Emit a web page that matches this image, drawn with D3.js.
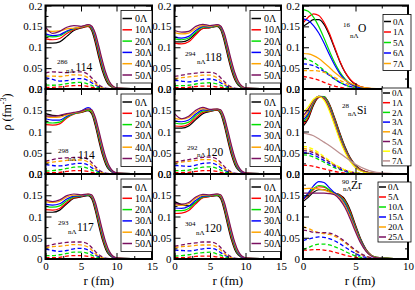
<!DOCTYPE html>
<html>
<head>
<meta charset="utf-8">
<script src="https://cdn.jsdelivr.net/npm/d3@7"></script>
<style>
  body { margin: 0; background: #fff; }
  svg { display: block; font-family: "Liberation Serif", "DejaVu Serif", serif; }
</style>
</head>
<body>
<div id="chart"></div>
<script>
// ---------- data ----------
// radial grids (fm)
const rHeavy = [0, 1, 2, 3, 4, 5, 6, 6.5, 7, 7.5, 8, 8.5, 9, 10, 15];
const rO  = [0, 0.5, 1, 1.5, 2, 2.5, 3, 3.5, 4, 4.5, 5, 6, 7, 10];
const rSi = [0, 0.5, 1, 1.5, 2, 2.5, 3, 3.5, 4, 4.5, 5, 6, 7, 10];
const rZr = [0, 0.5, 1, 1.5, 2, 2.5, 3, 3.5, 4, 4.5, 5, 5.5, 6, 7, 10];

const legendHeavy = ["0\u039b", "10\u039b", "20\u039b", "30\u039b", "40\u039b", "50\u039b"];
const legendO  = ["0\u039b", "1\u039b", "5\u039b", "6\u039b", "7\u039b"];
const legendSi = ["0\u039b", "1\u039b", "2\u039b", "3\u039b", "4\u039b", "5\u039b", "6\u039b", "7\u039b"];
const legendZr = ["0\u039b", "5\u039b", "10\u039b", "15\u039b", "20\u039b", "25\u039b"];

const yTicks = [0, 0.05, 0.1, 0.15, 0.2];
const yTickLabelsUpper = ["0.0", "0.05", "0.1", "0.15", "0.2"];
const yTickLabelsLower = ["0", "0.05", "0.1", "0.15", "0.2"];
const yMinor = [0.025, 0.075, 0.125, 0.175];
const xTicksHeavy = [0, 5, 10, 15];
const xTicksLight = [0, 5, 10];
const xMinorHeavy = [2.5, 7.5, 12.5];
const xMinorLight = [2.5, 7.5];

// 286 nΛ 114
const solid286 = [
  [0.110,0.110,0.113,0.126,0.140,0.146,0.150,0.140,0.112,0.076,0.044,0.021,0.008,0.001,0],
  [0.120,0.118,0.121,0.133,0.142,0.147,0.150,0.143,0.118,0.083,0.050,0.025,0.010,0.001,0],
  [0.128,0.125,0.127,0.137,0.144,0.148,0.152,0.146,0.123,0.089,0.055,0.028,0.012,0.002,0],
  [0.132,0.128,0.130,0.139,0.145,0.149,0.153,0.148,0.127,0.094,0.060,0.032,0.014,0.002,0],
  [0.140,0.138,0.139,0.144,0.146,0.149,0.153,0.150,0.131,0.099,0.065,0.036,0.016,0.003,0],
  [0.148,0.133,0.138,0.148,0.152,0.150,0.154,0.151,0.134,0.103,0.069,0.039,0.018,0.003,0]
];
const dashed286 = [
  [0.004,0.004,0.005,0.007,0.008,0.008,0.006,0.004,0.003,0.001,0.001,0,0,0,0],
  [0.010,0.009,0.010,0.013,0.015,0.016,0.012,0.009,0.005,0.003,0.001,0,0,0,0],
  [0.027,0.023,0.019,0.020,0.024,0.025,0.020,0.015,0.010,0.005,0.002,0.001,0,0,0],
  [0.031,0.031,0.030,0.032,0.034,0.033,0.027,0.020,0.013,0.007,0.003,0.001,0,0,0],
  [0.038,0.041,0.040,0.039,0.041,0.041,0.035,0.027,0.018,0.010,0.005,0.002,0.001,0,0]
];

// 294 nΛ 118
const solid294 = [
  [0.113,0.113,0.118,0.133,0.145,0.147,0.150,0.142,0.115,0.079,0.046,0.022,0.009,0.001,0],
  [0.110,0.108,0.113,0.130,0.145,0.147,0.151,0.145,0.120,0.085,0.051,0.026,0.011,0.001,0],
  [0.120,0.118,0.122,0.136,0.148,0.148,0.152,0.147,0.124,0.090,0.056,0.029,0.012,0.002,0],
  [0.125,0.122,0.126,0.140,0.150,0.149,0.153,0.149,0.128,0.095,0.061,0.033,0.014,0.002,0],
  [0.135,0.132,0.134,0.145,0.152,0.150,0.153,0.150,0.131,0.099,0.065,0.036,0.016,0.003,0],
  [0.140,0.136,0.138,0.150,0.155,0.152,0.154,0.151,0.134,0.103,0.069,0.039,0.018,0.003,0]
];
const dashed294 = [
  [0.003,0.003,0.004,0.006,0.007,0.007,0.005,0.004,0.002,0.001,0,0,0,0,0],
  [0.008,0.008,0.009,0.012,0.014,0.015,0.012,0.009,0.005,0.003,0.001,0,0,0,0],
  [0.021,0.019,0.017,0.019,0.023,0.024,0.020,0.015,0.010,0.005,0.002,0.001,0,0,0],
  [0.025,0.027,0.029,0.031,0.033,0.033,0.027,0.020,0.013,0.007,0.003,0.001,0,0,0],
  [0.030,0.033,0.036,0.038,0.040,0.040,0.035,0.027,0.018,0.010,0.005,0.002,0.001,0,0]
];

// 298 nΛ 114
const solid298 = [
  [0.142,0.138,0.137,0.140,0.143,0.145,0.149,0.142,0.115,0.079,0.046,0.022,0.009,0.001,0],
  [0.116,0.115,0.118,0.132,0.141,0.145,0.150,0.145,0.120,0.085,0.051,0.026,0.011,0.001,0],
  [0.121,0.120,0.122,0.134,0.142,0.146,0.151,0.147,0.124,0.090,0.056,0.029,0.012,0.002,0],
  [0.130,0.127,0.127,0.136,0.143,0.148,0.156,0.151,0.128,0.095,0.061,0.033,0.014,0.002,0],
  [0.135,0.133,0.134,0.139,0.144,0.147,0.153,0.150,0.131,0.099,0.065,0.036,0.016,0.003,0],
  [0.137,0.136,0.138,0.142,0.145,0.148,0.153,0.151,0.134,0.103,0.069,0.039,0.018,0.003,0]
];
const dashed298 = [
  [0.003,0.003,0.004,0.006,0.008,0.008,0.006,0.004,0.002,0.001,0,0,0,0,0],
  [0.007,0.008,0.010,0.013,0.016,0.017,0.013,0.009,0.005,0.003,0.001,0,0,0,0],
  [0.022,0.020,0.019,0.021,0.024,0.025,0.021,0.015,0.010,0.005,0.002,0.001,0,0,0],
  [0.026,0.028,0.030,0.032,0.033,0.033,0.028,0.021,0.013,0.007,0.003,0.001,0,0,0],
  [0.030,0.034,0.037,0.038,0.039,0.039,0.035,0.027,0.018,0.010,0.005,0.002,0.001,0,0]
];

// 292 nΛ 120
const solid292 = [
  [0.108,0.108,0.113,0.128,0.142,0.147,0.150,0.142,0.115,0.079,0.046,0.022,0.009,0.001,0],
  [0.113,0.112,0.117,0.132,0.145,0.148,0.151,0.145,0.120,0.085,0.051,0.026,0.011,0.001,0],
  [0.120,0.118,0.122,0.137,0.148,0.149,0.152,0.147,0.124,0.090,0.056,0.029,0.012,0.002,0],
  [0.125,0.123,0.127,0.141,0.151,0.150,0.153,0.149,0.128,0.095,0.061,0.033,0.014,0.002,0],
  [0.131,0.129,0.133,0.146,0.154,0.151,0.153,0.150,0.131,0.099,0.065,0.036,0.016,0.003,0],
  [0.142,0.130,0.136,0.150,0.157,0.152,0.153,0.151,0.134,0.103,0.069,0.039,0.018,0.003,0]
];
const dashed292 = [
  [0.003,0.003,0.004,0.006,0.008,0.008,0.006,0.004,0.002,0.001,0,0,0,0,0],
  [0.008,0.008,0.009,0.013,0.016,0.017,0.013,0.009,0.005,0.003,0.001,0,0,0,0],
  [0.020,0.019,0.018,0.021,0.025,0.026,0.021,0.015,0.010,0.005,0.002,0.001,0,0,0],
  [0.026,0.028,0.030,0.032,0.034,0.034,0.028,0.021,0.013,0.007,0.003,0.001,0,0,0],
  [0.028,0.031,0.034,0.037,0.039,0.040,0.035,0.027,0.018,0.010,0.005,0.002,0.001,0,0]
];

// 293 nΛ 117
const solid293 = [
  [0.110,0.110,0.115,0.130,0.143,0.146,0.149,0.142,0.115,0.079,0.046,0.022,0.009,0.001,0],
  [0.116,0.115,0.119,0.133,0.144,0.147,0.150,0.145,0.120,0.085,0.051,0.026,0.011,0.001,0],
  [0.124,0.122,0.125,0.137,0.146,0.148,0.151,0.147,0.124,0.090,0.056,0.029,0.012,0.002,0],
  [0.129,0.127,0.130,0.141,0.148,0.149,0.152,0.149,0.128,0.095,0.061,0.033,0.014,0.002,0],
  [0.135,0.133,0.136,0.146,0.150,0.150,0.153,0.150,0.131,0.099,0.065,0.036,0.016,0.003,0],
  [0.139,0.135,0.139,0.149,0.153,0.151,0.153,0.151,0.134,0.103,0.069,0.039,0.018,0.003,0]
];
const dashed293 = [
  [0.003,0.003,0.004,0.007,0.008,0.008,0.006,0.004,0.002,0.001,0,0,0,0,0],
  [0.008,0.008,0.010,0.013,0.016,0.016,0.013,0.009,0.005,0.003,0.001,0,0,0,0],
  [0.023,0.020,0.018,0.020,0.024,0.025,0.021,0.015,0.010,0.005,0.002,0.001,0,0,0],
  [0.027,0.029,0.030,0.032,0.034,0.033,0.028,0.021,0.013,0.007,0.003,0.001,0,0,0],
  [0.030,0.034,0.037,0.039,0.040,0.040,0.035,0.027,0.018,0.010,0.005,0.002,0.001,0,0]
];

// 304 nΛ 120
const solid304 = [
  [0.135,0.128,0.125,0.133,0.145,0.147,0.149,0.142,0.115,0.079,0.046,0.022,0.009,0.001,0],
  [0.107,0.108,0.114,0.130,0.144,0.147,0.150,0.145,0.120,0.085,0.051,0.026,0.011,0.001,0],
  [0.114,0.114,0.119,0.134,0.146,0.148,0.151,0.147,0.124,0.090,0.056,0.029,0.012,0.002,0],
  [0.120,0.119,0.124,0.138,0.148,0.149,0.153,0.149,0.128,0.095,0.061,0.033,0.014,0.002,0],
  [0.128,0.126,0.130,0.143,0.150,0.150,0.153,0.150,0.131,0.099,0.065,0.036,0.016,0.003,0],
  [0.131,0.129,0.133,0.146,0.152,0.151,0.153,0.151,0.134,0.103,0.069,0.039,0.018,0.003,0]
];
const dashed304 = [
  [0.003,0.003,0.004,0.006,0.007,0.007,0.005,0.004,0.002,0.001,0,0,0,0,0],
  [0.007,0.008,0.010,0.013,0.015,0.016,0.012,0.009,0.005,0.003,0.001,0,0,0,0],
  [0.021,0.020,0.019,0.021,0.024,0.025,0.021,0.015,0.010,0.005,0.002,0.001,0,0,0],
  [0.027,0.029,0.030,0.032,0.033,0.033,0.028,0.021,0.013,0.007,0.003,0.001,0,0,0],
  [0.030,0.033,0.036,0.038,0.040,0.040,0.035,0.027,0.018,0.010,0.005,0.002,0.001,0,0]
];

// 16 nΛ O
const solidO = [
  [0.150,0.158,0.166,0.166,0.155,0.130,0.098,0.066,0.040,0.022,0.011,0.002,0,0],
  [0.158,0.172,0.180,0.176,0.160,0.134,0.101,0.068,0.041,0.023,0.012,0.002,0,0],
  [0.190,0.186,0.172,0.150,0.122,0.092,0.064,0.041,0.024,0.013,0.007,0.001,0,0],
  [0.168,0.164,0.152,0.134,0.110,0.083,0.058,0.037,0.022,0.012,0.006,0.001,0,0],
  [0.085,0.084,0.080,0.073,0.063,0.052,0.040,0.030,0.021,0.014,0.009,0.003,0.001,0]
];
const dashedO = [
  [0.030,0.028,0.025,0.021,0.016,0.011,0.007,0.004,0.002,0.001,0,0,0,0],
  [0.072,0.070,0.064,0.055,0.045,0.034,0.024,0.016,0.010,0.005,0.003,0,0,0],
  [0.060,0.059,0.056,0.050,0.042,0.033,0.024,0.016,0.010,0.006,0.003,0,0,0],
  [0.044,0.044,0.044,0.043,0.040,0.035,0.028,0.021,0.015,0.009,0.005,0.001,0,0]
];

// 28 nΛ Si
const solidSi = [
  [0.112,0.130,0.162,0.180,0.182,0.165,0.133,0.097,0.064,0.038,0.021,0.005,0.001,0],
  [0.116,0.133,0.165,0.181,0.182,0.164,0.131,0.095,0.062,0.037,0.020,0.005,0.001,0],
  [0.121,0.138,0.168,0.183,0.182,0.162,0.128,0.092,0.060,0.035,0.019,0.004,0.001,0],
  [0.126,0.142,0.170,0.183,0.180,0.159,0.125,0.089,0.058,0.034,0.018,0.004,0.001,0],
  [0.131,0.147,0.172,0.183,0.179,0.156,0.122,0.086,0.056,0.033,0.017,0.004,0.001,0],
  [0.137,0.152,0.174,0.183,0.177,0.153,0.119,0.084,0.054,0.031,0.016,0.004,0.001,0],
  [0.145,0.158,0.176,0.182,0.174,0.149,0.115,0.080,0.051,0.029,0.015,0.003,0.001,0],
  [0.096,0.094,0.090,0.083,0.075,0.067,0.058,0.049,0.040,0.031,0.023,0.011,0.004,0]
];
const dashedSi = [
  [0.021,0.020,0.018,0.015,0.012,0.009,0.006,0.004,0.002,0.001,0,0,0,0],
  [0.045,0.044,0.040,0.034,0.028,0.021,0.015,0.010,0.006,0.003,0.002,0,0,0],
  [0.050,0.049,0.045,0.039,0.032,0.025,0.018,0.012,0.007,0.004,0.002,0,0,0],
  [0.060,0.058,0.053,0.046,0.038,0.029,0.021,0.014,0.009,0.005,0.003,0,0,0],
  [0.055,0.054,0.050,0.044,0.037,0.029,0.021,0.015,0.009,0.005,0.003,0,0,0],
  [0.065,0.063,0.058,0.050,0.041,0.032,0.023,0.016,0.010,0.006,0.003,0,0,0]
];

// 90 nΛ Zr
const solidZr = [
  [0.135,0.145,0.157,0.163,0.163,0.159,0.155,0.151,0.140,0.115,0.080,0.047,0.023,0.004,0],
  [0.140,0.150,0.163,0.170,0.169,0.162,0.155,0.150,0.137,0.111,0.077,0.045,0.022,0.004,0],
  [0.142,0.153,0.166,0.173,0.171,0.163,0.155,0.148,0.134,0.107,0.074,0.043,0.021,0.004,0],
  [0.140,0.155,0.172,0.182,0.180,0.168,0.156,0.146,0.130,0.103,0.071,0.041,0.020,0.003,0],
  [0.165,0.166,0.166,0.165,0.162,0.158,0.153,0.144,0.126,0.099,0.068,0.039,0.019,0.003,0],
  [0.155,0.155,0.155,0.155,0.155,0.154,0.151,0.140,0.121,0.094,0.064,0.037,0.018,0.003,0]
];
const dashedZr = [
  [0.021,0.021,0.022,0.022,0.021,0.019,0.016,0.013,0.009,0.006,0.004,0.002,0.001,0,0],
  [0.022,0.027,0.032,0.035,0.035,0.033,0.029,0.024,0.018,0.012,0.007,0.004,0.002,0,0],
  [0.043,0.047,0.050,0.052,0.051,0.048,0.043,0.036,0.028,0.020,0.013,0.007,0.004,0.001,0],
  [0.076,0.072,0.066,0.062,0.060,0.058,0.054,0.047,0.038,0.028,0.019,0.011,0.006,0.001,0],
  [0.068,0.066,0.063,0.062,0.062,0.061,0.057,0.050,0.041,0.031,0.021,0.013,0.007,0.001,0]
];

// ---------- styling / layout ----------
const seriesColors = ["#000000", "#ff0000", "#00e000", "#0000ff", "#ffa500", "#7a1060", "#ffff00", "#bc8f8f"];

const cols = [
  { x0: 45.5, x1: 152, xmax: 15, ticks: xTicksHeavy, minor: xMinorHeavy },
  { x0: 174.5, x1: 281, xmax: 15, ticks: xTicksHeavy, minor: xMinorHeavy },
  { x0: 303, x1: 408, xmax: 10, ticks: xTicksLight, minor: xMinorLight }
];
const rows = [{ y0: 5.5, y1: 89 }, { y0: 89, y1: 174 }, { y0: 174, y1: 259 }];

const heavyLeg = { dx: -31, dy: 5, w: 31, step: 11.3, first: 8, fs: 10, line: [1.5, 11], tx: 14 };

const panels = [
  { row: 0, col: 0, r: rHeavy, solid: solid286, dashed: dashed286, names: legendHeavy,
    label: ["286", "n\u039b", "114"], lab: [11.5, 58, 20.5, 67, 30, 65], leg: heavyLeg },
  { row: 0, col: 1, r: rHeavy, solid: solid294, dashed: dashed294, names: legendHeavy,
    label: ["294", "n\u039b", "118"], lab: [10.5, 50, 22.5, 58, 30.5, 55], leg: heavyLeg },
  { row: 0, col: 2, r: rO, solid: solidO, dashed: dashedO, names: legendO,
    label: ["16", "n\u039b", "O"], lab: [40, 21, 47, 32, 55, 26],
    leg: { dx: -25, dy: 9, w: 28, step: 10.5, first: 7, fs: 9, line: [1, 8], tx: 10 } },
  { row: 1, col: 0, r: rHeavy, solid: solid298, dashed: dashed298, names: legendHeavy,
    label: ["298", "n\u039b", "114"], lab: [12.5, 64, 22.5, 72, 32.5, 70], leg: heavyLeg },
  { row: 1, col: 1, r: rHeavy, solid: solid292, dashed: dashed292, names: legendHeavy,
    label: ["292", "n\u039b", "120"], lab: [12.5, 61, 22.5, 68, 31.5, 67], leg: heavyLeg },
  { row: 1, col: 2, r: rSi, solid: solidSi, dashed: dashedSi, names: legendSi,
    label: ["28", "n\u039b", "Si"], lab: [39, 19, 45, 27, 54, 25],
    leg: { dx: -26, dy: -1, w: 29, step: 9.7, first: 5, fs: 9, line: [1, 8], tx: 10 } },
  { row: 2, col: 0, r: rHeavy, solid: solid293, dashed: dashed293, names: legendHeavy,
    label: ["293", "n\u039b", "117"], lab: [12.5, 51, 22.5, 60, 31.5, 57], leg: heavyLeg },
  { row: 2, col: 1, r: rHeavy, solid: solid304, dashed: dashed304, names: legendHeavy,
    label: ["304", "n\u039b", "120"], lab: [10.5, 52, 21.5, 61, 30, 58], leg: heavyLeg },
  { row: 2, col: 2, r: rZr, solid: solidZr, dashed: dashedZr, names: legendZr,
    label: ["90", "n\u039b", "Zr"], lab: [39, 10, 40, 17, 48, 15],
    leg: { dx: -30, dy: 8, w: 33, step: 10, first: 5, fs: 9, line: [1, 8], tx: 10 } }
];

// ---------- drawing ----------
const svg = d3.select("#chart").append("svg")
  .attr("width", 415).attr("height", 290)
  .style("background", "#fff");

const defs = svg.append("defs");

panels.forEach(function (p, pi) {
  const c = cols[p.col], rw = rows[p.row];
  const x = d3.scaleLinear().domain([0, c.xmax]).range([c.x0, c.x1]);
  const y = d3.scaleLinear().domain([0, 0.2]).range([rw.y1, rw.y0]);
  const g = svg.append("g");

  defs.append("clipPath").attr("id", "clip" + pi)
    .append("rect").attr("x", c.x0).attr("y", rw.y0)
    .attr("width", c.x1 - c.x0).attr("height", rw.y1 - rw.y0);

  const line = d3.line()
    .x((d, i) => x(p.r[i]))
    .y(d => y(d))
    .curve(d3.curveMonotoneX);

  const curves = g.append("g").attr("clip-path", "url(#clip" + pi + ")");

  // dashed (hyperon) densities, series 1..n
  curves.selectAll("path.dash").data(p.dashed).join("path")
    .attr("class", "dash")
    .attr("d", line)
    .attr("fill", "none")
    .attr("stroke", (d, i) => seriesColors[i + 1])
    .attr("stroke-width", 1.3)
    .attr("stroke-dasharray", "4,2.5");

  // solid (total) densities
  curves.selectAll("path.solid").data(p.solid).join("path")
    .attr("class", "solid")
    .attr("d", line)
    .attr("fill", "none")
    .attr("stroke", (d, i) => seriesColors[i])
    .attr("stroke-width", 1.2);

  // axes with inward ticks on all four sides
  const labelsY = p.row === 2 ? yTickLabelsLower : yTickLabelsUpper;
  const fmtY = d => labelsY[yTicks.indexOf(d)];
  const none = () => "";

  function styleAxis(sel) {
    sel.select(".domain").remove();
    sel.selectAll(".tick line").attr("stroke", "#000").attr("stroke-width", 1);
    sel.attr("font-family", null).attr("font-size", 11);
    sel.selectAll("text").attr("fill", "#000");
  }

  g.append("g").attr("transform", `translate(0,${rw.y1})`)
    .call(d3.axisBottom(x).tickValues(c.ticks).tickSize(-6).tickPadding(3)
      .tickFormat(p.row === 2 ? d3.format("d") : none))
    .call(styleAxis);
  g.append("g").attr("transform", `translate(0,${rw.y1})`)
    .call(d3.axisBottom(x).tickValues(c.minor).tickSize(-3).tickFormat(none))
    .call(styleAxis);
  g.append("g").attr("transform", `translate(0,${rw.y0})`)
    .call(d3.axisTop(x).tickValues(c.ticks).tickSize(-6).tickFormat(none))
    .call(styleAxis);
  g.append("g").attr("transform", `translate(0,${rw.y0})`)
    .call(d3.axisTop(x).tickValues(c.minor).tickSize(-3).tickFormat(none))
    .call(styleAxis);
  g.append("g").attr("transform", `translate(${c.x0},0)`)
    .call(d3.axisLeft(y).tickValues(yTicks).tickSize(-6).tickPadding(3).tickFormat(fmtY))
    .call(styleAxis);
  g.append("g").attr("transform", `translate(${c.x0},0)`)
    .call(d3.axisLeft(y).tickValues(yMinor).tickSize(-3).tickFormat(none))
    .call(styleAxis);
  g.append("g").attr("transform", `translate(${c.x1},0)`)
    .call(d3.axisRight(y).tickValues(yTicks).tickSize(-6).tickFormat(none))
    .call(styleAxis);
  g.append("g").attr("transform", `translate(${c.x1},0)`)
    .call(d3.axisRight(y).tickValues(yMinor).tickSize(-3).tickFormat(none))
    .call(styleAxis);

  // frame
  g.append("rect")
    .attr("x", c.x0).attr("y", rw.y0)
    .attr("width", c.x1 - c.x0).attr("height", rw.y1 - rw.y0)
    .attr("fill", "none").attr("stroke", "#000").attr("stroke-width", 2);

  // legend
  const L = p.leg;
  const lx = c.x1 + L.dx, ly = rw.y0 + L.dy;
  const lg = g.append("g");
  lg.append("rect")
    .attr("x", lx).attr("y", ly)
    .attr("width", L.w).attr("height", L.first * 2 + L.step * (p.names.length - 1))
    .attr("fill", "#fff").attr("stroke", "#000").attr("stroke-width", 0.8);
  const items = lg.selectAll("g.item").data(p.names).join("g")
    .attr("transform", (d, i) => `translate(${lx},${ly + L.first + i * L.step})`);
  items.append("line")
    .attr("x1", L.line[0]).attr("x2", L.line[1])
    .attr("stroke", (d, i) => seriesColors[i]).attr("stroke-width", 1.5);
  items.append("text")
    .attr("x", L.tx).attr("dy", "0.35em")
    .attr("font-size", L.fs)
    .text(d => d);

  // nucleus label  ^A_{nΛ}Z
  const t = p.lab;
  g.append("text").attr("x", c.x0 + t[0]).attr("y", rw.y0 + t[1]).attr("font-size", 7).text(p.label[0]);
  g.append("text").attr("x", c.x0 + t[2]).attr("y", rw.y0 + t[3]).attr("font-size", 7).text(p.label[1]);
  g.append("text").attr("x", c.x0 + t[4]).attr("y", rw.y0 + t[5]).attr("font-size", 11.5).text(p.label[2]);
});

// axis titles
const yTitle = svg.append("text")
  .attr("transform", "translate(11,112) rotate(-90)")
  .attr("text-anchor", "middle")
  .attr("font-size", 12);
yTitle.append("tspan").text("\u03c1 (fm");
yTitle.append("tspan").attr("font-size", 8).attr("dy", -5).text("-3");
yTitle.append("tspan").attr("dy", 5).text(")");

cols.forEach(function (c, i) {
  svg.append("text")
    .attr("x", i === 2 ? 360 : (c.x0 + c.x1) / 2)
    .attr("y", 285)
    .attr("text-anchor", "middle")
    .attr("font-size", 13)
    .text("r (fm)");
});
</script>
</body>
</html>
